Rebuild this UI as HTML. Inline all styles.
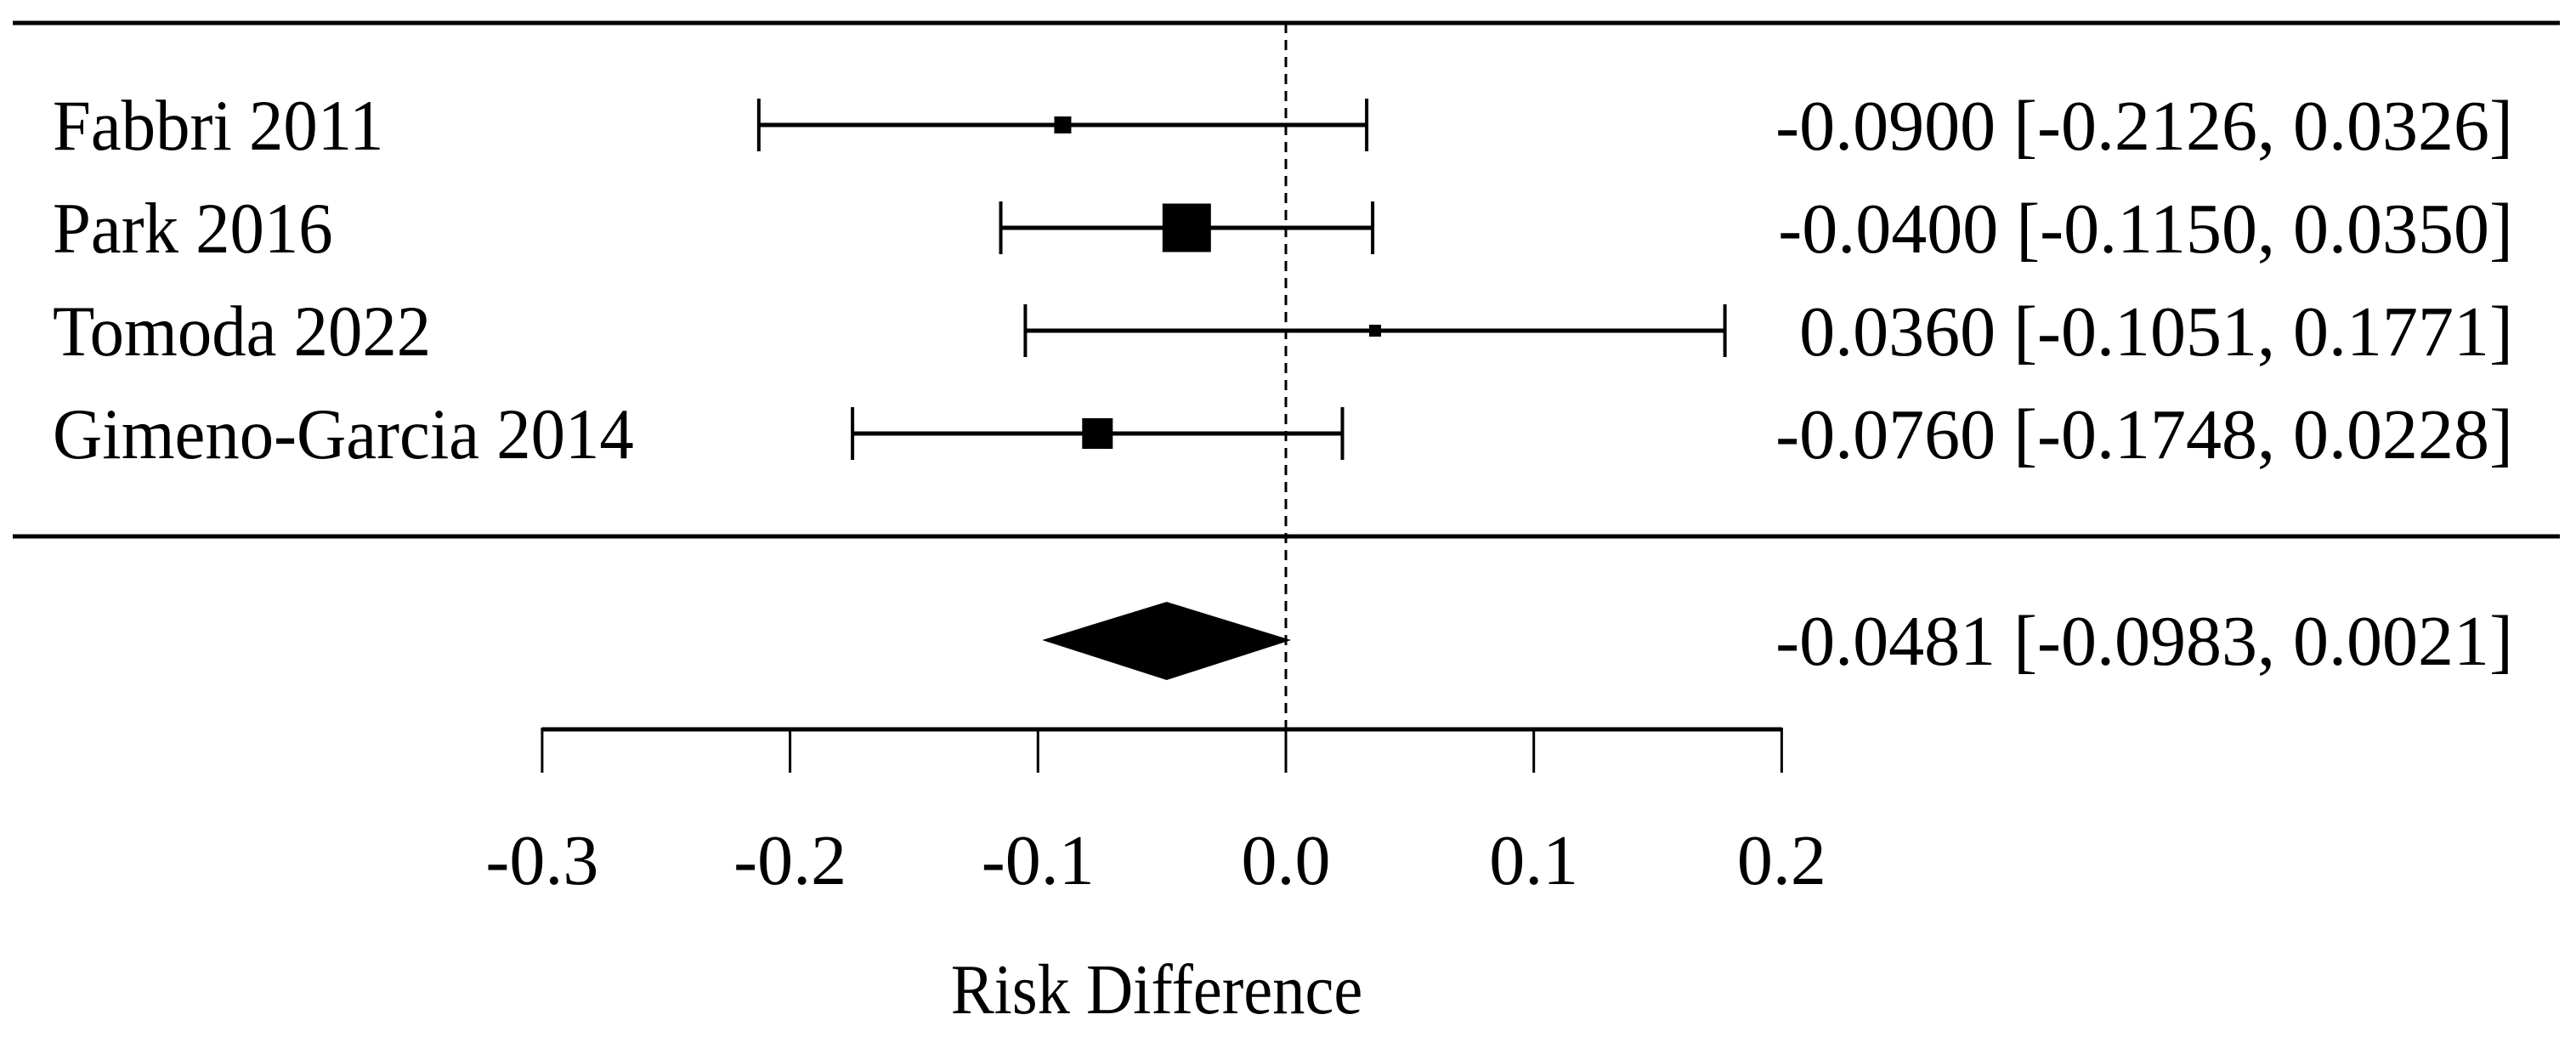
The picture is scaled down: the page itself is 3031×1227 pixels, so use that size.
<!DOCTYPE html>
<html><head><meta charset="utf-8"><style>
html,body{margin:0;padding:0;background:#fff;}
svg{display:block;}
text{font-family:"Liberation Serif",serif;fill:#000;}
</style></head><body>
<svg id="chart" width="3031" height="1227" viewBox="0 0 3031 1227" xmlns="http://www.w3.org/2000/svg"></svg>
<script>
const studies = ["Fabbri 2011","Park 2016","Tomoda 2022","Gimeno-Garcia 2014"];
const estimates = [-0.0900,-0.0400,0.0360,-0.0760];
const lowers = [-0.2126,-0.1150,-0.1051,-0.1748];
const uppers = [0.0326,0.0350,0.1771,0.0228];
const weights = [20,57,14,36];
const summary = [-0.0481,-0.0983,0.0021];
const ticks = [-0.3,-0.2,-0.1,0.0,0.1,0.2];
const tickLabels = ["-0.3","-0.2","-0.1","0.0","0.1","0.2"];

const svg = document.getElementById('chart');
const NS = 'http://www.w3.org/2000/svg';
const x = v => 1513 + v*2917;
const rowY = i => 147 + i*121;
const fmt = v => v.toFixed(4);
function mk(tag, attrs, parent){
  const e = document.createElementNS(NS, tag);
  for (const k in attrs) e.setAttribute(k, attrs[k]);
  (parent||svg).appendChild(e);
  return e;
}
let e;
e = mk('line',{x1:15,x2:3012,y1:27,y2:27,stroke:'#000','stroke-width':5});


e = mk('line',{x1:15,x2:3012,y1:631,y2:631,stroke:'#000','stroke-width':5});


e = mk('line',{x1:x(0),x2:x(0),y1:27,y2:858,stroke:'#000','stroke-width':3,'stroke-dasharray':'12 8'});



studies.forEach((s,i)=>{
  const y = rowY(i);
  const g = mk('g',{});
  
  
  let t = mk('text',{x:62/0.95,y:y+29,'font-size':85,transform:'scale(0.95,1)'},g);
  t.textContent = s;
  
  
  let l = mk('line',{x1:x(lowers[i]),x2:x(uppers[i]),y1:y,y2:y,stroke:'#000','stroke-width':5},g);
  
  
  [lowers[i],uppers[i]].forEach(v=>{
    let c = mk('line',{x1:x(v),x2:x(v),y1:y-31,y2:y+31,stroke:'#000','stroke-width':4},g);
    
    
  });
  const w = weights[i];
  let r = mk('rect',{x:x(estimates[i])-w/2,y:y-w/2,width:w,height:w,fill:'#000'},g);
  
  
  let v = mk('text',{x:2957,y:y+29,'font-size':84,'text-anchor':'end'},g);
  v.textContent = fmt(estimates[i])+' ['+fmt(lowers[i])+', '+fmt(uppers[i])+']';
  
  
});

const sy = 753;
e = mk('polygon',{points:`${x(summary[1])},${sy} ${x(summary[0])},${sy-45} ${x(summary[2])},${sy} ${x(summary[0])},${sy+47}`,fill:'#000'});


e = mk('text',{x:2957,y:sy+29,'font-size':84,'text-anchor':'end'});
e.textContent = fmt(summary[0])+' ['+fmt(summary[1])+', '+fmt(summary[2])+']';



e = mk('line',{x1:x(ticks[0]),x2:x(ticks[ticks.length-1]),y1:858,y2:858,stroke:'#000','stroke-width':5});


ticks.forEach((t,i)=>{
  let k = mk('line',{x1:x(t),x2:x(t),y1:856,y2:909,stroke:'#000','stroke-width':3});
  
  
  let lb = mk('text',{x:x(t),y:1040,'font-size':84,'text-anchor':'middle'});
  lb.textContent = tickLabels[i];
  
  
});
e = mk('text',{x:1361/0.91,y:1192,'font-size':84,'text-anchor':'middle',transform:'scale(0.91,1)'});
e.textContent = 'Risk Difference';


</script>
</body></html>
